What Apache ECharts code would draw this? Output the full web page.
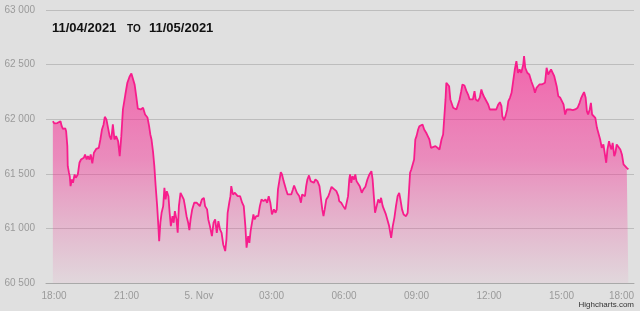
<!DOCTYPE html>
<html><head><meta charset="utf-8">
<script src="https://cdn.jsdelivr.net/npm/echarts@6/dist/echarts.min.js"></script>
<style>html,body{margin:0;padding:0;background:#e0e0e0}#c{width:640px;height:311px}</style>
</head><body><div id="c"></div>
<script>
// Data: minutes since 2021-11-04 17:57 UTC, and index values
const startTime = Date.UTC(2021, 10, 4, 17, 57);
const minutes = [
0,4,11,14,19,22,25,31,33,36,
37,40,42,44,47,50,54,57,62,66,
70,77,80,84,87,91,94,98,102,108,
114,118,122,126,129,133,137,141,145,149,
153,157,162,166,170,174,180,185,191,195,
199,203,207,211,218,224,229,235,239,242,
245,249,252,255,259,262,264,267,270,274,
277,280,283,287,290,293,297,300,303,307,
310,313,317,321,325,328,332,336,339,342,
346,351,357,361,365,370,375,378,383,386,
390,395,399,403,407,411,415,419,423,428,
431,434,438,441,443,447,452,459,465,470,
474,478,481,485,488,491,495,498,501,505,
510,514,518,523,528,532,536,540,544,549,
553,556,559,563,566,569,573,576,579,583,
587,592,596,599,602,606,609,612,616,619,
622,626,629,632,636,640,644,648,652,657,
662,665,669,672,675,679,684,687,692,695,
699,704,709,711,716,721,726,729,733,736,
738,741,744,748,751,754,757,762,767,771,
776,781,786,791,794,797,800,804,808,812,
815,819,823,827,831,835,840,844,848,852,
856,860,863,867,871,877,881,883,887,890,
893,897,900,903,907,910,914,918,922,927,
931,935,939,943,950,955,960,965,969,972,
975,977,980,984,987,990,994,998,1002,1006,
1010,1014,1017,1022,1027,1031,1035,1039,1043,1047,
1050,1055,1060,1064,1068,1072,1076,1081,1085,1089,
1093,1097,1101,1106,1110,1114,1116,1120,1124,1128,
1131,1135,1139,1143,1147,1151,1155,1159,1163,1168,
1170,1173,1178,1183,1188,1194,1197,1201,1208,1214,
1218,1222,1226,1230,1233,1237,1241,1245,1248,1251,
1255,1260,1264,1268,1272,1276,1280,1284,1291,1297,
1303,1308,1312,1316,1319,1323,1326,1329,1333,1336,
1339,1342,1347,1351,1355,1359,1363,1367,1370,1374,
1377,1381,1384,1387,1390,1394,1397,1400,1404,1409,
1413,1417,1421,1425,1429
];
const values = [
61982,61961,61965,61952,61982,61936,61912,61915,61890,61753,
61570,61510,61478,61387,61448,61418,61494,61464,61494,61601,
61631,61647,61677,61631,61662,61631,61677,61595,61693,61729,
61738,61814,61906,61952,62022,61998,62004,61845,61814,61952,
61814,61845,61799,61662,61845,62089,62226,62334,62394,62419,
62410,62318,62211,62096,62089,62105,62043,62015,61936,61860,
61814,61693,61570,61402,61204,61021,60883,61052,61143,61204,
61372,61265,61341,61295,61143,61021,61112,61052,61158,61082,
60960,61204,61326,61326,61265,61204,61112,61052,60984,61082,
61174,61235,61235,61250,61204,61265,61280,61204,61174,61082,
61021,60929,61052,61082,60960,61067,60991,60960,60853,60792,
60899,61143,61235,61295,61387,61311,61326,61295,61295,61235,
61204,61021,60823,60929,60868,60975,60991,61128,61082,61112,
61112,61204,61265,61250,61265,61235,61295,61235,61128,61174,
61143,61174,61357,61448,61515,61494,61433,61418,61357,61311,
61326,61311,61357,61393,61402,61326,61341,61295,61235,61311,
61311,61295,61387,61448,61485,61433,61448,61418,61448,61433,
61387,61295,61174,61112,61174,61265,61295,61326,61381,61393,
61357,61341,61295,61250,61235,61204,61174,61189,61295,61448,
61494,61418,61478,61448,61494,61433,61418,61387,61326,61357,
61381,61448,61494,61524,61448,61295,61143,61204,61265,61235,
61280,61204,61204,61128,61143,61021,60914,61021,61097,61204,
61295,61326,61265,61174,61128,61112,61143,61265,61509,61540,
61524,61631,61814,61845,61906,61936,61921,61952,61906,61876,
61845,61814,61738,61753,61753,61738,61723,61814,61860,61876,
62181,62334,62348,62302,62181,62165,62105,62114,62089,62089,
62181,62257,62318,62309,62257,62226,62181,62196,62181,62257,
62181,62165,62196,62272,62226,62196,62181,62135,62089,62105,
62089,62105,62089,62135,62156,62119,62028,61991,62028,62089,
62165,62196,62242,62348,62455,62531,62425,62455,62425,62501,
62577,62471,62425,62410,62348,62288,62242,62288,62318,62318,
62302,62334,62471,62410,62394,62455,62440,62394,62348,62302,
62211,62196,62211,62135,62043,62089,62074,62089,62083,62089,
62105,62150,62196,62226,62248,62196,62074,62043,62089,62150,
62043,62059,62013,61921,61906,61814,61738,61769,61784,61601,
61723,61799,61753,61723,61784,61662,61693,61769,61753,61723,
61677,61586,61601,61555,61540
];
const xTickLabels = ['18:00','21:00','5. Nov','03:00','06:00','09:00','12:00','15:00','18:00'];
const firstTick = Date.UTC(2021, 10, 4, 18, 0);
const tickStepHours = 3;
const yMin = 60500, yMax = 63000, yStep = 500;
const titleFrom = '11/04/2021', titleSep = 'TO', titleTo = '11/05/2021';
const credits = 'Highcharts.com';

const H = 3600 * 1000;
const seriesData = minutes.map((m, i) => [startTime + m * 60000, values[i]]);
const tickValues = xTickLabels.map((_, i) => firstTick + i * tickStepHours * H);
const fmtThousands = v => String(v).replace(/\B(?=(\d{3})+(?!\d))/g, ' ');
const FONT = "'Liberation Sans', Arial, Helvetica, sans-serif";

const chart = echarts.init(document.getElementById('c'), null, {renderer: 'canvas'});
chart.setOption({
  backgroundColor: '#e0e0e0',
  animation: false,
  grid: {left: 46, right: 6, top: 10, bottom: 28, containLabel: false},
  xAxis: {
    type: 'value',
    min: firstTick - 20 * 60000,
    max: tickValues[tickValues.length - 1],
    axisLine: {show: true, lineStyle: {color: '#a9a9a9', width: 1}},
    axisTick: {show: false},
    splitLine: {show: false},
    axisLabel: {
      customValues: tickValues,
      color: '#9a9a9a', fontSize: 10, fontFamily: FONT, margin: 8,
      alignMaxLabel: 'right',
      showMinLabel: true, showMaxLabel: true,
      hideOverlap: false,
      formatter: v => xTickLabels[Math.round((v - firstTick) / (tickStepHours * H))]
    }
  },
  yAxis: {
    type: 'value',
    min: yMin, max: yMax, interval: yStep,
    axisLine: {show: false},
    axisTick: {show: false},
    splitLine: {lineStyle: {color: '#bdbdbd', width: 1}},
    axisLabel: {color: '#9a9a9a', fontSize: 10, fontFamily: FONT, margin: 11,
      formatter: v => fmtThousands(v)}
  },
  graphic: [
    {type: 'text', left: 52, top: 22, style: {text: titleFrom, font: "bold 13px " + FONT, fill: '#111'}},
    {type: 'text', left: 127, top: 24.5, style: {text: titleSep, font: "bold 10px " + FONT, fill: '#111'}},
    {type: 'text', left: 149, top: 22, style: {text: titleTo, font: "bold 13px " + FONT, fill: '#111'}},
    {type: 'text', right: 6, bottom: 2, style: {text: credits, font: "8px " + FONT, fill: '#333'}}
  ],
  series: [{
    type: 'line',
    data: seriesData,
    showSymbol: false,
    smooth: false,
    lineStyle: {color: '#f71d8c', width: 1.8},
    areaStyle: {
      color: new echarts.graphic.LinearGradient(0, 0, 0, 1, [
        {offset: 0, color: 'rgba(252,28,142,0.9)'},
        {offset: 0.45, color: 'rgba(246,40,146,0.66)'},
        {offset: 0.8, color: 'rgba(240,60,150,0.3)'},
        {offset: 1, color: 'rgba(240,60,150,0.08)'}
      ])
    }
  }]
});
</script></body></html>
